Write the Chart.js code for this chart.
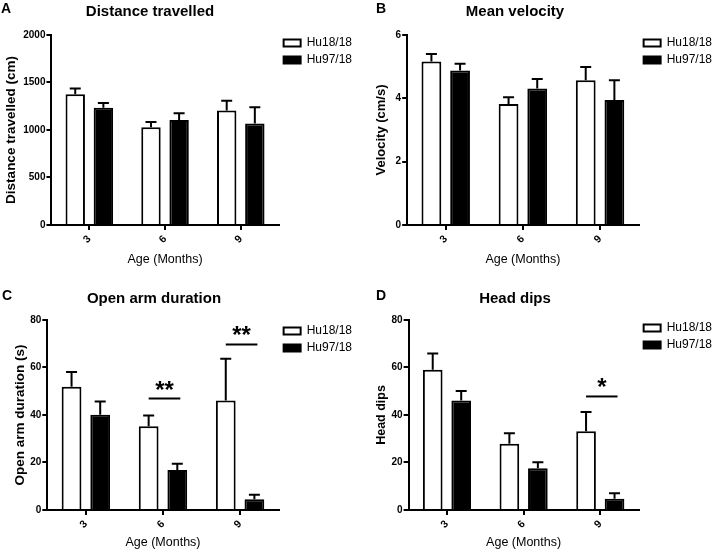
<!DOCTYPE html>
<html>
<head>
<meta charset="utf-8">
<script src="https://cdn.jsdelivr.net/npm/chart.js@4.4.1/dist/chart.umd.min.js"></script>
<style>
  body { margin: 0; background: #fff; font-family: 'Liberation Sans', Arial, sans-serif; }
  #wrap { position: relative; width: 720px; height: 550px; overflow: hidden; background: #fff; }
  .panel { position: absolute; width: 360px; height: 271px; }
  .panel canvas { position: absolute; left: 0; top: 0; }
  .letter { position: absolute; font-weight: bold; font-size: 14px; line-height: 14px; color: #000; }
  .title { position: absolute; width: 200px; text-align: center; font-weight: bold; font-size: 15px; line-height: 15px; color: #000; }
</style>
</head>
<body>
<div id="wrap"></div>
<script>
// categories (age in months)
var ages = ['3', '6', '9'];
var genotypes = ['Hu18/18', 'Hu97/18'];

// A - distance travelled (cm), mean and SEM
var distWT = [1375, 1028, 1205];
var distWTErr = [62, 55, 104];
var distMut = [1233, 1104, 1069];
var distMutErr = [52, 73, 171];

// B - mean velocity (cm/s)
var velWT = [5.16, 3.82, 4.57];
var velWTErr = [0.24, 0.21, 0.42];
var velMut = [4.88, 4.31, 3.95];
var velMutErr = [0.21, 0.30, 0.62];

// C - open arm duration (s)
var openWT = [51.9, 35.3, 46.1];
var openWTErr = [6.2, 4.5, 17.6];
var openMut = [40.1, 16.8, 4.5];
var openMutErr = [5.6, 2.7, 1.9];
var openSigIndex = [1, 2];
var openSigLevel = [46.9, 69.7];
var openSigLabel = ['**', '**'];

// D - head dips
var dipsWT = [59.1, 27.9, 33.1];
var dipsWTErr = [6.8, 4.4, 8.2];
var dipsMut = [46.1, 17.6, 4.7];
var dipsMutErr = [4.0, 2.5, 2.3];
var dipsSigIndex = [2];
var dipsSigLevel = [47.8];
var dipsSigLabel = ['*'];

var FONT = "'Liberation Sans', Arial, sans-serif";

// upper error bars with caps
var errorBars = {
  id: 'errorBars',
  afterDatasetsDraw: function(chart) {
    var ctx = chart.ctx, y = chart.scales.y;
    chart.data.datasets.forEach(function(ds, i) {
      var meta = chart.getDatasetMeta(i);
      meta.data.forEach(function(bar, j) {
        var top = y.getPixelForValue(ds.data[j] + ds.errors[j]);
        ctx.save();
        ctx.strokeStyle = '#000';
        ctx.lineWidth = 2;
        ctx.beginPath();
        ctx.moveTo(bar.x, bar.y);
        ctx.lineTo(bar.x, top);
        ctx.moveTo(bar.x - 5.5, top);
        ctx.lineTo(bar.x + 5.5, top);
        ctx.stroke();
        ctx.restore();
      });
    });
  }
};

// significance lines and stars
var sigMarks = {
  id: 'sigMarks',
  afterDatasetsDraw: function(chart, args, opts) {
    if (!opts.index) return;
    var ctx = chart.ctx, y = chart.scales.y;
    var m0 = chart.getDatasetMeta(0), m1 = chart.getDatasetMeta(1);
    opts.index.forEach(function(idx, k) {
      var x1 = m0.data[idx].x, x2 = m1.data[idx].x + 3;
      var py = y.getPixelForValue(opts.level[k]);
      ctx.save();
      ctx.strokeStyle = '#000';
      ctx.lineWidth = 2;
      ctx.beginPath();
      ctx.moveTo(x1, py);
      ctx.lineTo(x2, py);
      ctx.stroke();
      ctx.fillStyle = '#000';
      ctx.font = 'bold 24px ' + FONT;
      ctx.textAlign = 'center';
      ctx.textBaseline = 'alphabetic';
      ctx.fillText(opts.label[k], (x1 + x2) / 2, py - 1);
      ctx.restore();
    });
  }
};

// move the legend a few pixels up from the top of the plot area
var legendNudge = {
  id: 'legendNudge',
  afterLayout: function(chart, args, opts) {
    if (chart.legend && opts.dy) {
      chart.legend.top += opts.dy;
      chart.legend.bottom += opts.dy;
    }
  }
};

function addPanel(p) {
  var div = document.createElement('div');
  div.className = 'panel';
  div.style.left = p.left + 'px';
  div.style.top = p.top + 'px';
  div.innerHTML = '<canvas width="360" height="271"></canvas>' +
    '<div class="letter" style="left:' + p.letterX + 'px;top:' + p.textY + 'px">' + p.letter + '</div>' +
    '<div class="title" style="left:' + (p.titleX - 100) + 'px;top:' + (p.textY + 2) + 'px">' + p.title + '</div>';
  document.getElementById('wrap').appendChild(div);
  var canvas = div.querySelector('canvas');

  new Chart(canvas.getContext('2d'), {
    type: 'bar',
    data: {
      labels: ages,
      datasets: [{
        label: genotypes[0],
        data: p.wt,
        errors: p.wtErr,
        backgroundColor: '#fff',
        borderColor: '#000',
        borderWidth: 2,
        borderSkipped: 'bottom'
      }, {
        label: genotypes[1],
        data: p.mut,
        errors: p.mutErr,
        backgroundColor: '#000',
        borderColor: '#000',
        borderWidth: 2,
        borderSkipped: 'bottom'
      }]
    },
    options: {
      responsive: false,
      animation: false,
      categoryPercentage: 0.743,
      barPercentage: 0.69,
      layout: { padding: { top: 35, right: -2, bottom: 2 + p.xTitleLift, left: p.padL } },
      plugins: {
        legend: {
          position: 'right',
          align: 'start',
          labels: {
            boxWidth: 17,
            boxHeight: 7,
            padding: 5,
            color: '#000',
            font: { family: FONT, size: 12 }
          }
        },
        tooltip: { enabled: false },
        legendNudge: { dy: p.legendDy },
        sigMarks: { index: p.sigIndex, level: p.sigLevel, label: p.sigLabel }
      },
      scales: {
        x: {
          grid: { offset: false, drawOnChartArea: false, color: '#000', lineWidth: 2, tickLength: 5 },
          border: { color: '#000', width: 2 },
          ticks: {
            color: '#000', minRotation: 45, maxRotation: 45, padding: 3,
            font: { family: FONT, size: 10.5, weight: 'bold' }
          },
          title: {
            display: true, text: 'Age (Months)', color: '#000',
            padding: { top: 3 - p.xTitleLift, bottom: 2 },
            font: { family: FONT, size: 12.5 }
          }
        },
        y: {
          min: 0, max: p.max,
          grid: { drawOnChartArea: false, color: '#000', lineWidth: 2, tickLength: 5 },
          border: { color: '#000', width: 2 },
          ticks: {
            stepSize: p.step, color: '#000', padding: 1,
            callback: function(v) { return String(v); },
            font: { family: FONT, size: 10, weight: 'bold' }
          },
          title: {
            display: true, text: p.yTitle, color: '#000',
            padding: { top: 0, bottom: p.titlePad },
            font: { family: FONT, size: p.yFont, weight: 'bold' }
          }
        }
      }
    },
    plugins: [errorBars, sigMarks, legendNudge]
  });
}

addPanel({ left: 0, top: 0, letter: 'A', letterX: 1, textY: 1, title: 'Distance travelled', titleX: 150,
  wt: distWT, wtErr: distWTErr, mut: distMut, mutErr: distMutErr, max: 2000, step: 500,
  yTitle: 'Distance travelled (cm)', yFont: 13.5, padL: 3, titlePad: 3, legendDy: -3, xTitleLift: 0 });
addPanel({ left: 360, top: 0, letter: 'B', letterX: 16, textY: 1, title: 'Mean velocity', titleX: 155,
  wt: velWT, wtErr: velWTErr, mut: velMut, mutErr: velMutErr, max: 6, step: 2,
  yTitle: 'Velocity (cm/s)', yFont: 13, padL: 14, titlePad: 5, legendDy: -3, xTitleLift: 0 });
addPanel({ left: 0, top: 285, letter: 'C', letterX: 2, textY: 3, title: 'Open arm duration', titleX: 154,
  wt: openWT, wtErr: openWTErr, mut: openMut, mutErr: openMutErr, max: 80, step: 20,
  yTitle: 'Open arm duration (s)', yFont: 13.5, padL: 12, titlePad: 1, legendDy: 0, xTitleLift: 2,
  sigIndex: openSigIndex, sigLevel: openSigLevel, sigLabel: openSigLabel });
addPanel({ left: 360, top: 285, letter: 'D', letterX: 16, textY: 3, title: 'Head dips', titleX: 155,
  wt: dipsWT, wtErr: dipsWTErr, mut: dipsMut, mutErr: dipsMutErr, max: 80, step: 20,
  yTitle: 'Head dips', yFont: 12.5, padL: 14, titlePad: 1.5, legendDy: -3, xTitleLift: 2,
  sigIndex: dipsSigIndex, sigLevel: dipsSigLevel, sigLabel: dipsSigLabel });
</script>
</body>
</html>
